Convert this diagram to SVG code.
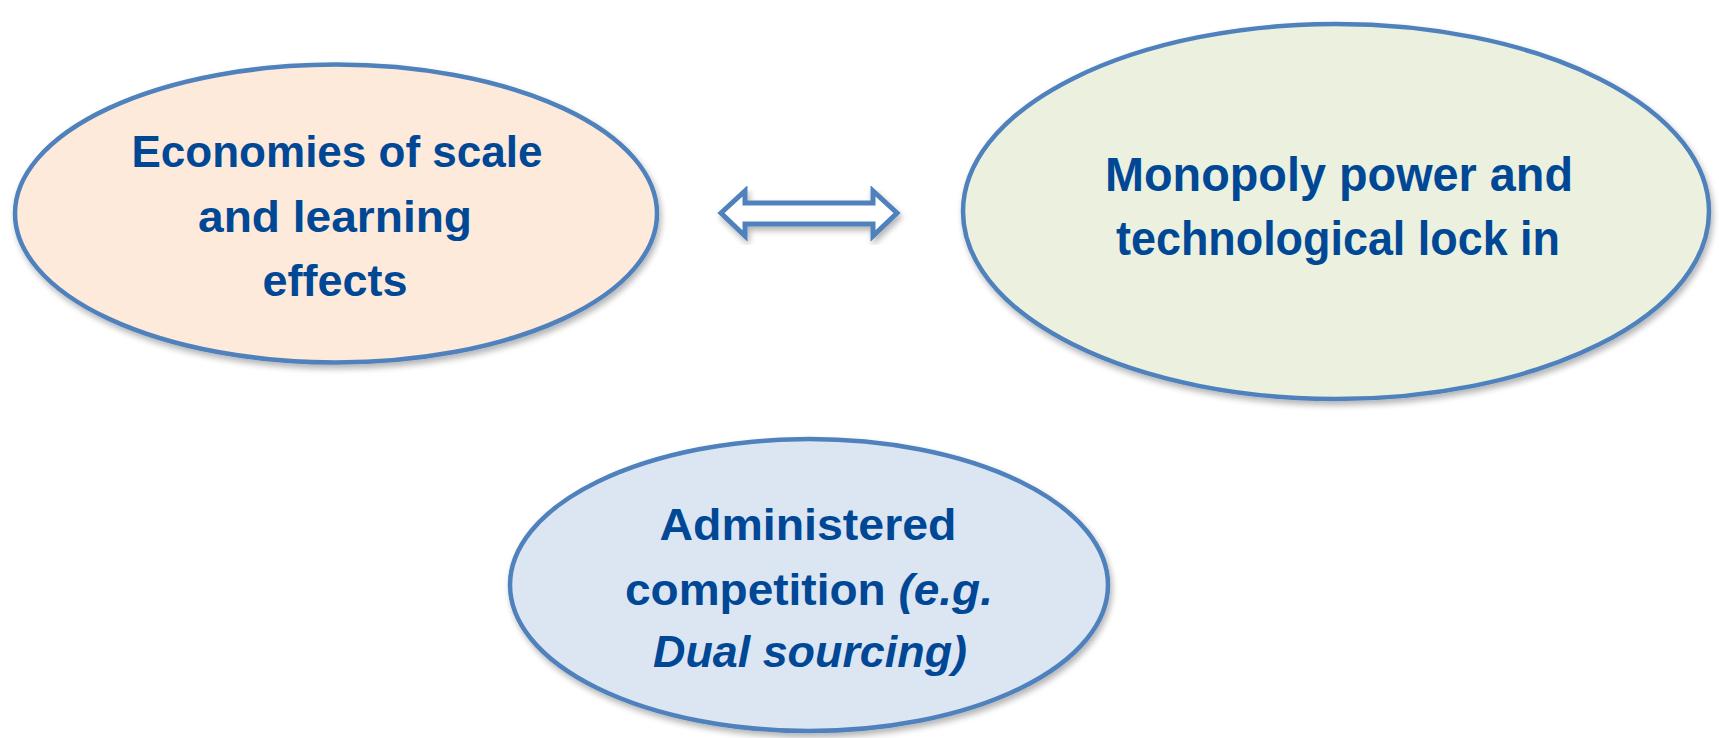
<svg xmlns="http://www.w3.org/2000/svg" width="1719" height="738" viewBox="0 0 1719 738">
<style>
.node{stroke:#4F81BD;stroke-width:4.5;filter:url(#sh)}
.lbl{font-family:"Liberation Sans",Arial,sans-serif;font-weight:bold;fill:#004896;text-anchor:middle}
.it{font-style:italic}
.arrow{fill:#FFFFFF;stroke:#4F81BD;stroke-width:5;stroke-linejoin:miter;filter:url(#sh)}
</style>
<defs>
<filter id="sh" x="-10%" y="-10%" width="120%" height="130%">
<feGaussianBlur in="SourceAlpha" stdDeviation="3"/>
<feOffset dx="2" dy="4" result="b"/>
<feComponentTransfer><feFuncA type="linear" slope="0.3"/></feComponentTransfer>
<feMerge><feMergeNode/><feMergeNode in="SourceGraphic"/></feMerge>
</filter>
</defs>
<rect width="1719" height="738" fill="#FFFFFF"/>
<g id="connectors">
<path class="arrow" d="M721,213 L745,191 L745,203 L873,203 L873,191 L897,213 L873,236 L873,224 L745,224 L745,236 Z"/>
</g>
<g id="economies">
<ellipse class="node" cx="336" cy="213.5" rx="321" ry="149" fill="#FDEADA"/>
<text class="lbl" font-size="45" x="337" y="167" textLength="411" lengthAdjust="spacingAndGlyphs">Economies of scale</text>
<text class="lbl" font-size="45" x="335" y="232" textLength="274" lengthAdjust="spacingAndGlyphs">and learning</text>
<text class="lbl" font-size="45" x="335" y="296" textLength="145" lengthAdjust="spacingAndGlyphs">effects</text>
</g>
<g id="monopoly">
<ellipse class="node" cx="1336" cy="211.5" rx="373" ry="187.5" fill="#EBF1DE"/>
<text class="lbl" font-size="48" x="1339" y="191" textLength="468" lengthAdjust="spacingAndGlyphs">Monopoly power and</text>
<text class="lbl" font-size="48" x="1338" y="255" textLength="444" lengthAdjust="spacingAndGlyphs">technological lock in</text>
</g>
<g id="administered">
<ellipse class="node" cx="809" cy="585" rx="299" ry="146" fill="#DCE6F2"/>
<text class="lbl" font-size="45" x="808" y="540" textLength="297" lengthAdjust="spacingAndGlyphs">Administered</text>
<text class="lbl" font-size="45" x="809" y="605" textLength="368" lengthAdjust="spacingAndGlyphs">competition <tspan class="it">(e.g.</tspan></text>
<text class="lbl it" font-size="45" x="810" y="667" textLength="314" lengthAdjust="spacingAndGlyphs">Dual sourcing)</text>
</g>
</svg>
